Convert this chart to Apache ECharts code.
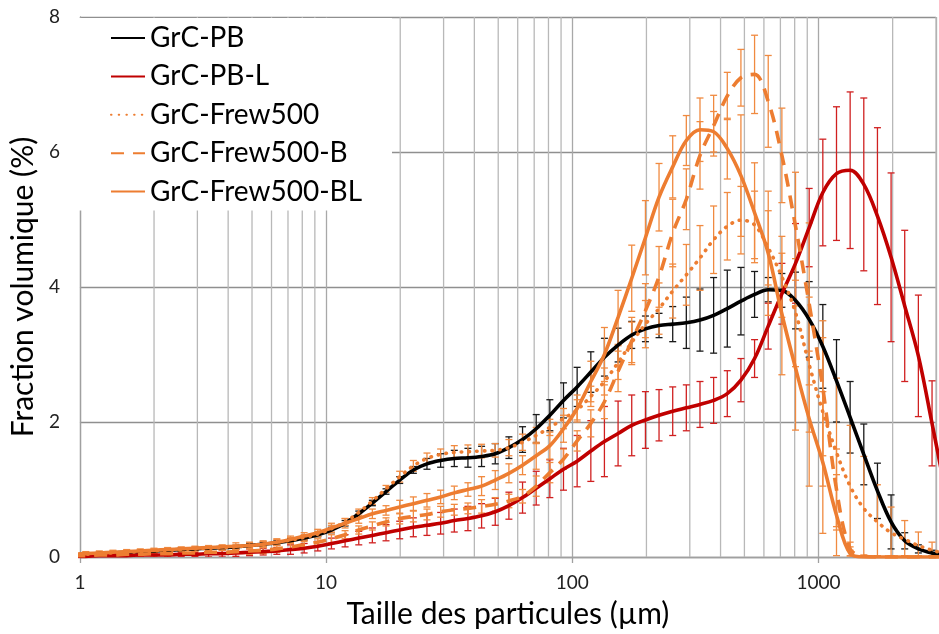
<!DOCTYPE html>
<html><head><meta charset="utf-8">
<script src="https://cdn.jsdelivr.net/npm/echarts@6/dist/echarts.min.js"></script>
<style>html,body{margin:0;padding:0;background:#fff}#c{width:939px;height:634px}</style>
</head><body><div id="c"></div>
<script>
// particle sizes (µm), bin centres
const sizes = [0.930,1.056,1.199,1.362,1.548,1.759,1.999,2.271,2.580,2.932,3.331,3.784,4.299,4.886,5.551,6.306,7.166,8.141,9.250,10.51,11.94,13.57,15.41,17.51,19.90,22.61,25.68,29.18,33.16,37.67,42.80,48.63,55.26,62.78,71.33,81.04,92.06,104.6,118.9,135.0,153.4,174.3,198.1,225.0,255.7,290.4,330.0,374.9,426.0,483.9,549.8,624.7,709.8,806.4,916.2,1041,1183,1344,1527,1735,1971,2239,2544,2891,3284];

const seriesNames = ['GrC-PB','GrC-PB-L','GrC-Frew500','GrC-Frew500-B','GrC-Frew500-BL'];

const pbValues = [0.03,0.04,0.05,0.06,0.07,0.08,0.09,0.10,0.11,0.12,0.13,0.14,0.15,0.17,0.19,0.21,0.24,0.28,0.33,0.40,0.50,0.64,0.80,0.97,1.14,1.29,1.38,1.43,1.46,1.47,1.49,1.53,1.62,1.74,1.90,2.10,2.32,2.52,2.74,2.96,3.14,3.29,3.38,3.43,3.45,3.47,3.51,3.58,3.68,3.79,3.89,3.96,3.95,3.80,3.52,3.12,2.61,2.07,1.52,0.98,0.52,0.24,0.12,0.06,0.03];
const pbErr = [0.02,0.02,0.02,0.02,0.02,0.02,0.02,0.02,0.02,0.02,0.02,0.02,0.02,0.03,0.03,0.03,0.03,0.03,0.03,0.04,0.04,0.04,0.04,0.04,0.05,0.05,0.08,0.10,0.12,0.14,0.15,0.15,0.16,0.19,0.21,0.23,0.26,0.29,0.30,0.28,0.25,0.20,0.19,0.18,0.26,0.38,0.46,0.56,0.57,0.50,0.34,0.18,0.25,0.42,0.56,0.62,0.61,0.53,0.45,0.41,0.40,0.12,0.06,0.04,0.02];

const pblValues = [0.01,0.01,0.02,0.02,0.02,0.03,0.03,0.03,0.04,0.04,0.05,0.05,0.06,0.07,0.08,0.09,0.11,0.13,0.16,0.20,0.24,0.28,0.32,0.36,0.40,0.44,0.47,0.50,0.54,0.57,0.61,0.67,0.76,0.88,1.02,1.16,1.30,1.42,1.57,1.71,1.83,1.95,2.03,2.10,2.16,2.21,2.26,2.32,2.42,2.62,2.94,3.42,3.90,4.35,4.88,5.40,5.68,5.73,5.52,5.05,4.44,3.72,2.98,1.98,0.95];
const pblErr = [0.03,0.03,0.03,0.03,0.03,0.03,0.03,0.03,0.03,0.03,0.05,0.05,0.05,0.05,0.05,0.05,0.07,0.07,0.07,0.08,0.09,0.10,0.11,0.12,0.13,0.14,0.15,0.16,0.17,0.18,0.18,0.20,0.20,0.23,0.25,0.28,0.31,0.38,0.45,0.52,0.48,0.45,0.42,0.38,0.36,0.34,0.34,0.34,0.34,0.32,0.28,0.34,0.45,0.59,0.58,0.79,0.99,1.16,1.28,1.31,1.25,1.12,0.90,0.63,0.40];

const frewValues = [0.03,0.04,0.05,0.06,0.07,0.08,0.09,0.10,0.11,0.12,0.13,0.14,0.15,0.17,0.19,0.22,0.25,0.29,0.34,0.42,0.52,0.66,0.83,1.01,1.19,1.35,1.46,1.52,1.55,1.56,1.57,1.58,1.62,1.70,1.80,1.92,2.05,2.18,2.38,2.60,2.88,3.18,3.45,3.68,3.94,4.18,4.43,4.70,4.90,4.99,4.92,4.58,4.15,3.62,2.85,2.15,1.55,1.05,0.72,0.52,0.36,0.26,0.17,0.10,0.05];
const frewErr = [0.03,0.03,0.03,0.03,0.03,0.03,0.03,0.03,0.03,0.03,0.03,0.03,0.03,0.04,0.04,0.04,0.04,0.04,0.04,0.05,0.05,0.05,0.05,0.05,0.08,0.08,0.08,0.08,0.10,0.10,0.10,0.10,0.12,0.12,0.12,0.12,0.15,0.15,0.15,0.20,0.25,0.30,0.35,0.38,0.40,0.45,0.48,0.50,0.50,0.50,0.50,0.55,0.60,0.80,1.00,1.10,1.10,0.90,0.77,0.55,0.38,0.28,0.20,0.12,0.06];

const frewBValues = [0.02,0.02,0.03,0.03,0.04,0.04,0.05,0.05,0.06,0.06,0.07,0.07,0.08,0.09,0.10,0.12,0.15,0.18,0.22,0.27,0.33,0.40,0.46,0.52,0.57,0.60,0.63,0.67,0.70,0.72,0.75,0.78,0.83,0.90,1.05,1.25,1.45,1.72,1.98,2.30,2.75,3.20,3.65,4.15,4.80,5.30,5.95,6.39,6.83,7.10,7.15,6.75,5.95,4.90,3.75,2.50,1.00,0.12,0.01,0,0,0,0,0,0];
const frewBErr = [0.03,0.03,0.03,0.03,0.03,0.03,0.03,0.03,0.03,0.03,0.03,0.03,0.03,0.05,0.05,0.05,0.05,0.05,0.05,0.06,0.06,0.06,0.06,0.06,0.08,0.08,0.08,0.08,0.08,0.08,0.10,0.10,0.10,0.10,0.15,0.15,0.15,0.15,0.20,0.25,0.30,0.35,0.40,0.45,0.50,0.45,0.50,0.45,0.35,0.42,0.58,0.68,0.70,0.80,1.20,1.00,0.60,0.10,0.02,0.02,0.02,0.02,0.02,0.02,0.02];

const frewBLValues = [0.04,0.05,0.06,0.07,0.08,0.09,0.10,0.11,0.12,0.13,0.14,0.15,0.16,0.17,0.19,0.22,0.26,0.31,0.36,0.43,0.50,0.57,0.64,0.69,0.74,0.79,0.84,0.89,0.95,1.00,1.05,1.14,1.24,1.36,1.50,1.65,1.90,2.20,2.60,3.00,3.55,4.13,4.73,5.33,5.78,6.17,6.33,6.30,6.05,5.65,5.10,4.50,3.60,2.80,2.05,1.40,0.62,0.05,0,0,0,0,0,0,0];
const frewBLErr = [0.03,0.03,0.03,0.03,0.03,0.03,0.03,0.03,0.03,0.03,0.03,0.03,0.05,0.05,0.05,0.05,0.05,0.05,0.05,0.07,0.07,0.07,0.07,0.07,0.10,0.10,0.10,0.10,0.10,0.10,0.14,0.14,0.14,0.14,0.20,0.20,0.20,0.20,0.30,0.40,0.40,0.49,0.55,0.50,0.46,0.37,0.47,0.30,0.45,0.90,0.74,0.92,0.90,0.92,1.00,1.05,0.60,0.05,0.02,0.02,0.02,0.02,0.02,0.02,0.02];

const xMajorLabels = [1,10,100,1000];
const xMinorGrid = [2,3,4,5,6,7,8,9,20,30,40,50,60,70,80,90,200,300,400,500,600,700,800,900,2000,3000];

const colBlack = '#000000', colRed = '#c00000', colOrange = '#ed7d31';
const FONT = 'Lato';

function lineSeries(name, vals, color, type, cap) {
  return {
    name: name, type: 'line', data: sizes.map((s, i) => [s, vals[i]]),
    symbol: 'none', showSymbol: false, smooth: 0.35, clip: true, z: 4,
    lineStyle: { color: color, width: 3.6, type: type, cap: cap || 'butt' },
    itemStyle: { color: color }, emphasis: { disabled: true }
  };
}
function errSeries(name, vals, errs, color) {
  return {
    name: name + ' err', type: 'custom', clip: true, z: 3,
    data: sizes.map((s, i) => [s, vals[i] - errs[i], vals[i] + errs[i]]),
    encode: { x: 0, y: [1, 2] },
    renderItem: function (params, api) {
      const x = api.value(0);
      const top = api.coord([x, api.value(2)]);
      const bot = api.coord([x, api.value(1)]);
      const h = 3.5;
      const st = { stroke: color, lineWidth: 1.3 };
      return { type: 'group', children: [
        { type: 'line', shape: { x1: top[0], y1: top[1], x2: bot[0], y2: bot[1] }, style: st },
        { type: 'line', shape: { x1: top[0] - h, y1: top[1], x2: top[0] + h, y2: top[1] }, style: st },
        { type: 'line', shape: { x1: bot[0] - h, y1: bot[1], x2: bot[0] + h, y2: bot[1] }, style: st }
      ]};
    }
  };
}

const chart = echarts.init(document.getElementById('c'), null, { renderer: 'canvas' });
chart.setOption({
  animation: false,
  backgroundColor: '#ffffff',
  grid: { left: 77, right: 3, top: 17, bottom: 74, containLabel: false },
  graphic: [{
    type: 'rect', left: 79, top: 19, z: 50, zlevel: 1, silent: true,
    shape: { width: 313, height: 181 },
    style: { fill: '#ffffff', stroke: null }
  }],
  legend: {
    data: seriesNames, orient: 'vertical', left: 79, top: 18, z: 100, zlevel: 1,
    backgroundColor: '#ffffff', padding: [6, 30, 5, 31],
    itemWidth: 34, itemHeight: 26, itemGap: 10.4,
    itemStyle: { opacity: 0, borderWidth: 0 },
    textStyle: { fontFamily: FONT, fontSize: 28, color: '#000' },
    selectedMode: false
  },
  xAxis: {
    type: 'log', logBase: 10, min: 1, max: 3000,
    name: 'Taille des particules (µm)', nameLocation: 'middle', nameGap: 42,
    nameTextStyle: { fontFamily: FONT, fontSize: 30, color: '#000' },
    axisLine: { show: true, lineStyle: { color: '#a0a0a0', width: 1.3 } },
    axisTick: { show: true, length: 6, lineStyle: { color: '#a0a0a0', width: 1.3 } },
    axisLabel: { fontFamily: FONT, fontSize: 19, color: '#222', margin: 16, showMaxLabel: false,
      formatter: v => (xMajorLabels.indexOf(Math.round(v)) >= 0 ? String(Math.round(v)) : '') },
    splitLine: { show: true, lineStyle: { color: '#a8a8a8', width: 1.3 } }
  },
  yAxis: {
    type: 'value', min: 0, max: 8, interval: 2,
    name: 'Fraction volumique (%)', nameLocation: 'middle', nameGap: 35,
    nameTextStyle: { fontFamily: FONT, fontSize: 30, color: '#000' },
    axisLine: { show: true, lineStyle: { color: '#a0a0a0', width: 1.3 } },
    axisTick: { show: false },
    axisLabel: { fontFamily: FONT, fontSize: 19, color: '#222', margin: 20 },
    splitLine: { show: true, lineStyle: { color: '#8f8f8f', width: 1.3 } }
  },
  series: [
    {
      name: 'minor grid', type: 'custom', z: 1, silent: true, clip: true,
      data: xMinorGrid.map(v => [v]),
      encode: { x: 0 },
      renderItem: function (params, api) {
        const v = api.value(0);
        const a = api.coord([v, 0]);
        const b = api.coord([v, 8]);
        return { type: 'line', shape: { x1: a[0], y1: a[1], x2: b[0], y2: b[1] },
          style: { stroke: '#b8b8b8', lineWidth: 1.3 } };
      }
    },
    errSeries(seriesNames[0], pbValues, pbErr, '#1a1a1a'),
    lineSeries(seriesNames[0], pbValues, colBlack, 'solid'),
    errSeries(seriesNames[1], pblValues, pblErr, '#d02020'),
    lineSeries(seriesNames[1], pblValues, colRed, 'solid'),
    errSeries(seriesNames[2], frewValues, frewErr, '#f08a40'),
    lineSeries(seriesNames[2], frewValues, colOrange, [0.5, 7.2], 'round'),
    errSeries(seriesNames[3], frewBValues, frewBErr, '#f08a40'),
    lineSeries(seriesNames[3], frewBValues, colOrange, [13, 9]),
    errSeries(seriesNames[4], frewBLValues, frewBLErr, '#f08a40'),
    lineSeries(seriesNames[4], frewBLValues, colOrange, 'solid')
  ]
});
</script>
</body></html>
